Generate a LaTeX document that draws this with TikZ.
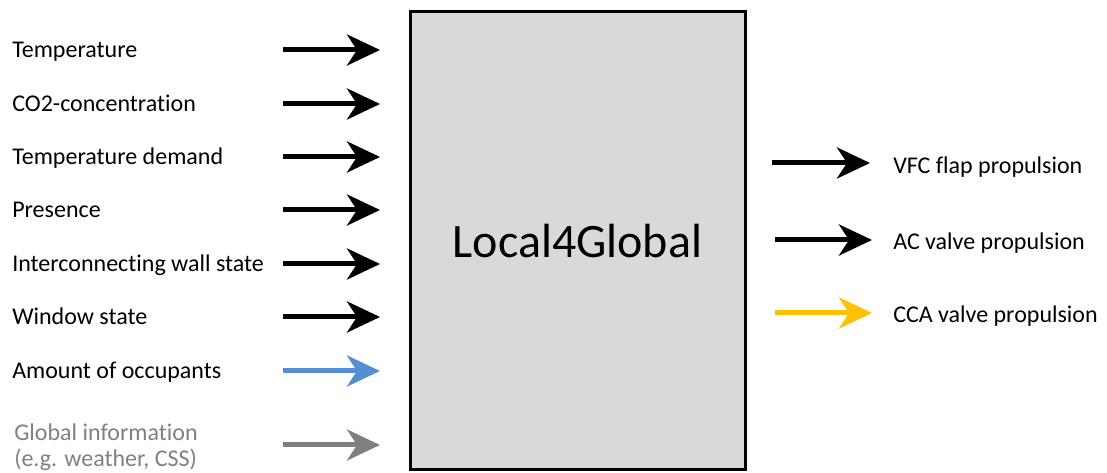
\documentclass[tikz,border=0pt]{standalone}
\usepackage{fontspec}
\setmainfont{Carlito}[Ligatures=NoCommon]
\usetikzlibrary{arrows.meta}
\definecolor{boxgray}{HTML}{D9D9D9}
\definecolor{inblue}{HTML}{558ED5}
\definecolor{ingray}{HTML}{808080}
\definecolor{outgold}{HTML}{FFC000}
\begin{document}
\begin{tikzpicture}[x=0.75pt,y=-0.75pt,
  lbl/.style={anchor=base west, inner sep=0pt, font=\fontsize{18}{19.5}\selectfont},
  sig/.style={line width=3.75pt, -{Stealth[length=24.75pt,width=23.25pt,inset=7.5pt]}},
  core/.style={draw=black, line width=2.25pt, fill=boxgray, inner sep=0pt,
    minimum width=251.25pt, minimum height=343.5pt, font=\fontsize{36}{40}\selectfont},
]
\useasboundingbox (0,0) rectangle (1107,473);

% central block
\node[core] (box) at (577.5,241) {Local4Global};

% inputs
\foreach \y/\txt/\n in {
    50/Temperature/1,
    104/CO2-concentration/2,
    157/Temperature demand/3,
    210/Presence/4,
    264/Interconnecting wall state/5,
    317/Window state/6,
    371/Amount of occupants/7} {
  \node[lbl] (in\n) at (12,\y+8) {\txt};
  \coordinate (is\n) at (283,\y);
  \coordinate (ie\n) at (380,\y);
}
\foreach \n in {1,...,6} \draw[sig, black] (is\n) -- (ie\n);
\draw[sig, inblue] (is7) -- (ie7);

\node[lbl, text=ingray, align=left, anchor=north west] (in8) at (14,424)
  {Global information\\(e.g. weather, CSS)};
\coordinate (is8) at (283,445);
\coordinate (ie8) at (380,445);
\draw[sig, ingray] (is8) -- (ie8);

% outputs
\coordinate (os1) at (772,163);
\coordinate (oe1) at (870,163);
\coordinate (os2) at (775,240);
\coordinate (oe2) at (872,240);
\coordinate (os3) at (775,313);
\coordinate (oe3) at (872,313);
\draw[sig, black] (os1) -- (oe1);
\draw[sig, black] (os2) -- (oe2);
\draw[sig, outgold] (os3) -- (oe3);
\node[lbl] (out1) at (893,174) {VFC flap propulsion};
\node[lbl] (out2) at (893,250) {AC valve propulsion};
\node[lbl] (out3) at (893,323) {CCA valve propulsion};
\end{tikzpicture}
\end{document}
